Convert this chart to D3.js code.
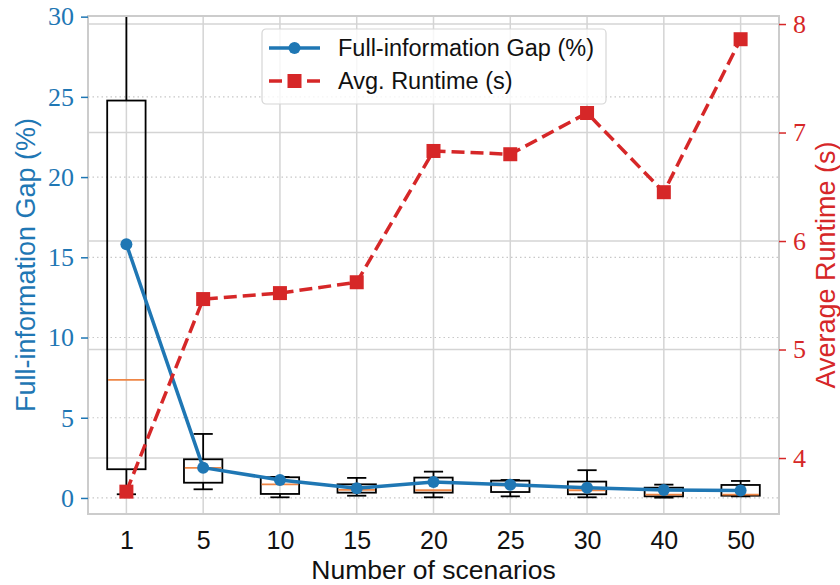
<!DOCTYPE html>
<html>
<head>
<meta charset="utf-8">
<script src="https://cdn.jsdelivr.net/npm/d3@7"></script>
<style>
  body { margin: 0; background: white; }
</style>
</head>
<body>
<div id="chart"></div>
<script>
// values
const scenarios = ["1", "5", "10", "15", "20", "25", "30", "40", "50"]
const gapMean   = [15.82, 1.89, 1.12, 0.60, 1.00, 0.83, 0.64, 0.50, 0.46]
const runtime   = [3.69, 5.465, 5.52, 5.62, 6.83, 6.80, 7.18, 6.45, 7.86]
const whiskLo   = [0.23, 0.54, 0.04, 0.14, 0.04, 0.10, 0.04, 0.02, 0.10]
const q1        = [1.79, 0.95, 0.25, 0.33, 0.33, 0.37, 0.23, 0.10, 0.14]
const median    = [7.36, 1.87, 0.85, 0.50, 0.48, 0.78, 0.48, 0.21, 0.21]
const q3        = [24.77, 2.41, 1.29, 0.85, 1.27, 1.08, 1.02, 0.64, 0.81]
const whiskHi   = [34, 3.99, 1.31, 1.25, 1.64, 1.12, 1.73, 0.83, 1.06]
const leftTicks  = [0, 5, 10, 15, 20, 25, 30]
const rightTicks = [4, 5, 6, 7, 8]

const width = 840
const height = 585
const margin = {top: 16, right: 61, bottom: 71, left: 88}

const blue = "#1f77b4"
const red = "#d62728"
const grid = "#d4d4d4"
const sans = "'Liberation Sans', Arial, sans-serif"
const serif = "'Liberation Serif', 'DejaVu Serif', serif"

const svg = d3.create("svg")
    .attr("width", width)
    .attr("height", height)

const x = d3.scalePoint()
    .domain(scenarios)
    .range([margin.left, width - margin.right])
    .padding(0.5)

const yL = d3.scaleLinear()
    .domain([-1, 30.04])
    .range([height - margin.bottom, margin.top])

const yR = d3.scaleLinear()
    .domain([3.484, 8.074])
    .range([height - margin.bottom, margin.top])

const boxW = x.step() * 0.5

svg.append("clipPath").attr("id", "plot")
  .append("rect")
    .attr("x", margin.left).attr("y", margin.top)
    .attr("width", width - margin.left - margin.right)
    .attr("height", height - margin.top - margin.bottom)

// grid: vertical at categories, dotted for the left axis, solid for the right
svg.append("g")
    .attr("stroke", grid)
    .attr("stroke-width", 1.5)
  .selectAll("line")
  .data(scenarios)
  .join("line")
    .attr("x1", d => x(d)).attr("x2", d => x(d))
    .attr("y1", margin.top).attr("y2", height - margin.bottom)

svg.append("g")
    .attr("stroke", "#c8c8c8")
    .attr("stroke-width", 1.2)
    .attr("stroke-dasharray", "1.5,3")
  .selectAll("line")
  .data(leftTicks.slice(0, -1))
  .join("line")
    .attr("x1", margin.left).attr("x2", width - margin.right)
    .attr("y1", d => yL(d)).attr("y2", d => yL(d))

svg.append("g")
    .attr("stroke", grid)
    .attr("stroke-width", 1.5)
  .selectAll("line")
  .data(rightTicks)
  .join("line")
    .attr("x1", margin.left).attr("x2", width - margin.right)
    .attr("y1", d => yR(d)).attr("y2", d => yR(d))

// boxes
const box = svg.append("g")
    .attr("clip-path", "url(#plot)")
    .attr("stroke-width", 1.8)
  .selectAll("g")
  .data(scenarios)
  .join("g")
    .attr("transform", d => `translate(${x(d)},0)`)

box.append("line")
    .attr("stroke", "black")
    .attr("y1", (d, i) => yL(whiskHi[i])).attr("y2", (d, i) => yL(q3[i]))
box.append("line")
    .attr("stroke", "black")
    .attr("y1", (d, i) => yL(whiskLo[i])).attr("y2", (d, i) => yL(q1[i]))
box.append("line")
    .attr("stroke", "black")
    .attr("x1", -boxW / 4).attr("x2", boxW / 4)
    .attr("y1", (d, i) => yL(whiskHi[i])).attr("y2", (d, i) => yL(whiskHi[i]))
box.append("line")
    .attr("stroke", "black")
    .attr("x1", -boxW / 4).attr("x2", boxW / 4)
    .attr("y1", (d, i) => yL(whiskLo[i])).attr("y2", (d, i) => yL(whiskLo[i]))
box.append("rect")
    .attr("fill", "none").attr("stroke", "black")
    .attr("x", -boxW / 2).attr("width", boxW)
    .attr("y", (d, i) => yL(q3[i]))
    .attr("height", (d, i) => yL(q1[i]) - yL(q3[i]))
box.append("line")
    .attr("stroke", "#ee8646")
    .attr("x1", -boxW / 2 + 0.9).attr("x2", boxW / 2 - 0.9)
    .attr("y1", (d, i) => yL(median[i])).attr("y2", (d, i) => yL(median[i]))

// mean gap line
const gapLine = d3.line()
    .x((d, i) => x(scenarios[i]))
    .y(d => yL(d))

svg.append("path")
    .datum(gapMean)
    .attr("fill", "none")
    .attr("stroke", blue)
    .attr("stroke-width", 3.5)
    .attr("stroke-linejoin", "round")
    .attr("d", gapLine)

svg.append("g")
    .attr("fill", blue)
  .selectAll("circle")
  .data(gapMean)
  .join("circle")
    .attr("cx", (d, i) => x(scenarios[i]))
    .attr("cy", d => yL(d))
    .attr("r", 6)

// runtime line
const rtLine = d3.line()
    .x((d, i) => x(scenarios[i]))
    .y(d => yR(d))

svg.append("path")
    .datum(runtime)
    .attr("fill", "none")
    .attr("stroke", red)
    .attr("stroke-width", 3.5)
    .attr("stroke-dasharray", "13,6")
    .attr("d", rtLine)

svg.append("g")
    .attr("fill", red)
  .selectAll("rect")
  .data(runtime)
  .join("rect")
    .attr("x", (d, i) => x(scenarios[i]) - 7)
    .attr("y", d => yR(d) - 7)
    .attr("width", 14)
    .attr("height", 14)

// spines
svg.append("rect")
    .attr("x", margin.left).attr("y", margin.top)
    .attr("width", width - margin.left - margin.right)
    .attr("height", height - margin.top - margin.bottom)
    .attr("fill", "none")
    .attr("stroke", "#cccccc")
    .attr("stroke-width", 2)

// axes
const xAxis = svg.append("g")
    .attr("transform", `translate(0,${height - margin.bottom})`)
    .call(d3.axisBottom(x).tickSize(0).tickPadding(17))
xAxis.select(".domain").remove()
xAxis.selectAll("text")
    .attr("font-family", sans)
    .attr("font-size", 25)
    .attr("fill", "#111")

const leftAxis = svg.append("g")
    .attr("transform", `translate(${margin.left},0)`)
    .call(d3.axisLeft(yL).tickValues(leftTicks).tickSize(7).tickPadding(7))
leftAxis.select(".domain").remove()
leftAxis.selectAll("line").attr("stroke", blue).attr("stroke-width", 1.5)
leftAxis.selectAll("text")
    .attr("font-family", serif)
    .attr("font-size", 26)
    .attr("fill", blue)

const rightAxis = svg.append("g")
    .attr("transform", `translate(${width - margin.right},0)`)
    .call(d3.axisRight(yR).tickValues(rightTicks).tickFormat(d3.format("d")).tickSize(7).tickPadding(7))
rightAxis.select(".domain").remove()
rightAxis.selectAll("line").attr("stroke", red).attr("stroke-width", 1.5)
rightAxis.selectAll("text")
    .attr("font-family", serif)
    .attr("font-size", 26)
    .attr("fill", red)

const midY = (margin.top + height - margin.bottom) / 2

svg.append("text")
    .attr("transform", `translate(35,${midY}) rotate(-90)`)
    .attr("text-anchor", "middle")
    .attr("font-family", sans)
    .attr("font-size", 27)
    .attr("fill", blue)
    .text("Full-information Gap (%)")

svg.append("text")
    .attr("transform", `translate(835,${midY}) rotate(-90)`)
    .attr("text-anchor", "middle")
    .attr("font-family", sans)
    .attr("font-size", 27)
    .attr("fill", red)
    .text("Average Runtime (s)")

svg.append("text")
    .attr("x", (margin.left + width - margin.right) / 2)
    .attr("y", 579)
    .attr("text-anchor", "middle")
    .attr("font-family", sans)
    .attr("font-size", 26.5)
    .attr("fill", "#111")
    .text("Number of scenarios")

// legend
const legend = svg.append("g").attr("transform", "translate(262,29)")
legend.append("rect")
    .attr("width", 344).attr("height", 75)
    .attr("rx", 4)
    .attr("fill", "white").attr("fill-opacity", 0.8)
    .attr("stroke", "#d6d6d6")
    .attr("stroke-width", 1.2)

const items = [
  {label: "Full-information Gap (%)", color: blue, dash: null, y: 19},
  {label: "Avg. Runtime (s)", color: red, dash: "13,6", y: 52}
]
items.forEach((it, i) => {
  legend.append("line")
      .attr("x1", 7).attr("x2", 58)
      .attr("y1", it.y).attr("y2", it.y)
      .attr("stroke", it.color).attr("stroke-width", 3.5)
      .attr("stroke-dasharray", it.dash)
  if (i === 0) {
    legend.append("circle").attr("cx", 32.5).attr("cy", it.y).attr("r", 6).attr("fill", it.color)
  } else {
    legend.append("rect").attr("x", 25.5).attr("y", it.y - 7).attr("width", 14).attr("height", 14).attr("fill", it.color)
  }
  legend.append("text")
      .attr("x", 76).attr("y", it.y)
      .attr("dy", "0.35em")
      .attr("font-family", sans)
      .attr("font-size", 23.5)
      .attr("fill", "#111")
      .text(it.label)
})

document.getElementById("chart").append(svg.node())
</script>
</body>
</html>
